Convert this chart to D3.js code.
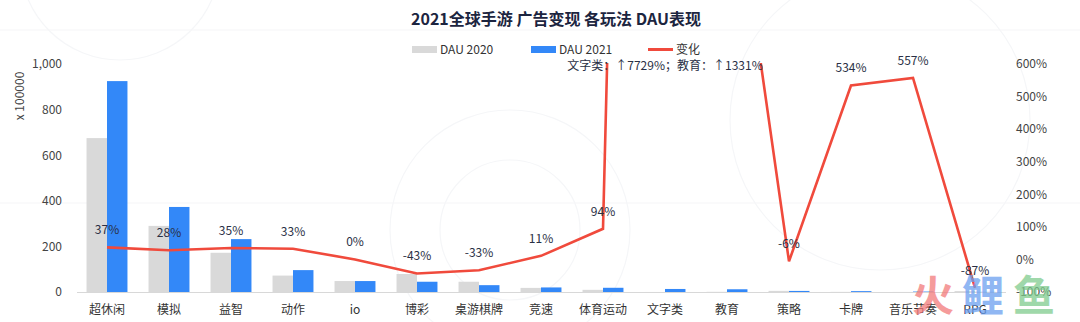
<!DOCTYPE html>
<html><head><meta charset="utf-8">
<script src="https://cdn.jsdelivr.net/npm/d3@7"></script>
<style>
html,body{margin:0;padding:0;background:#fff;}
svg{display:block;font-family:"Noto Sans CJK SC","Noto Sans",sans-serif;}
</style></head>
<body>
<svg id="c" width="1080" height="322"></svg>
<script>
const categories = ["超休闲","模拟","益智","动作","io","博彩","桌游棋牌","竞速","体育运动","文字类","教育","策略","卡牌","音乐节奏","RPG"];
const dau2020 = [675, 290, 172, 72, 48, 79, 45, 18, 9.5, 0.17, 0.84, 5, 0.6, 0.3, 4];
const dau2021 = [925, 373, 232, 96, 48, 45, 30, 20, 18.5, 13.3, 12, 4.7, 3.8, 2, 0.5];
const change = [37, 28, 35, 33, 0, -43, -33, 11, 94, 7729, 1331, -6, 534, 557, -87];
const changeLabels = ["37%","28%","35%","33%","0%","-43%","-33%","11%","94%","文字类：↑7729%；教育：↑1331%","","-6%","534%","557%","-87%"];
const leftTicks = [0, 200, 400, 600, 800, 1000];
const rightTicks = [-100, 0, 100, 200, 300, 400, 500, 600];
const seriesNames = ["DAU 2020", "DAU 2021"];
const lineName = "变化";
const title = "2021全球手游 广告变现 各玩法 DAU表现";
const yTitle = "x 100000";
const watermark = ["火", "鲤", "鱼"];

const svg = d3.select("#c");
const colors = {g:"#d9d9d9", b:"#3388f8", r:"#f04a3c", text:"#333", axis:"#d8d8d8"};

// faint background decoration
const deco = svg.append("g").attr("fill","none").attr("stroke","#f5f6f8").attr("stroke-width",1.2);
deco.append("circle").attr("cx",120).attr("cy",-40).attr("r",100);
deco.append("circle").attr("cx",510).attr("cy",230).attr("r",120);
deco.append("circle").attr("cx",510).attr("cy",230).attr("r",70);
deco.append("circle").attr("cx",880).attr("cy",120).attr("r",150);
deco.append("line").attr("x1",0).attr("x2",1080).attr("y1",30).attr("y2",30);
deco.append("line").attr("x1",0).attr("x2",1080).attr("y1",203).attr("y2",203);

const x = d3.scaleBand().domain(categories).range([76, 1006]).paddingInner(0.34).paddingOuter(0.17);
const x1 = d3.scaleBand().domain(seriesNames).range([0, x.bandwidth()]);
const yL = d3.scaleLinear().domain([0, 1000]).range([292, 64]);
const yR = d3.scaleLinear().domain([-100, 600]).range([292, 64]);

// title
svg.append("text").attr("x",556).attr("y",25).attr("text-anchor","middle")
  .attr("font-size",16).attr("font-weight","bold").attr("fill","#1c2540").text(title);

// legend
const lg = svg.append("g").attr("font-size",12).attr("fill",colors.text);
lg.append("rect").attr("x",412).attr("y",46).attr("width",25).attr("height",7).attr("fill",colors.g);
lg.append("text").attr("x",440).attr("y",53.5).text(seriesNames[0]);
lg.append("rect").attr("x",531).attr("y",46).attr("width",25).attr("height",7).attr("fill",colors.b);
lg.append("text").attr("x",559).attr("y",53.5).text(seriesNames[1]);
lg.append("line").attr("x1",648).attr("x2",673).attr("y1",49.5).attr("y2",49.5).attr("stroke",colors.r).attr("stroke-width",3);
lg.append("text").attr("x",676).attr("y",53.5).text(lineName);

// left axis
const axL = svg.append("g").attr("transform","translate(62,0)")
  .call(d3.axisLeft(yL).tickValues(leftTicks).tickSize(0).tickPadding(0).tickFormat(d3.format(",")));
axL.select(".domain").remove();
axL.selectAll("text").attr("font-size",12).attr("fill","#444").attr("font-family","Noto Sans CJK SC");
svg.append("text").attr("transform","translate(24,96) rotate(-90)").attr("text-anchor","middle")
  .attr("font-size",12).attr("fill","#444").text(yTitle);

// right axis
const axR = svg.append("g").attr("transform","translate(1016,0)")
  .call(d3.axisRight(yR).tickValues(rightTicks).tickSize(0).tickPadding(0).tickFormat(d => d + "%"));
axR.select(".domain").remove();
axR.selectAll("text").attr("font-size",12).attr("fill","#444").attr("font-family","Noto Sans CJK SC");

// bars
const rows = categories.map((c,i) => ({c, v:[dau2020[i], dau2021[i]]}));
const bg = svg.append("g");
rows.forEach(r => {
  seriesNames.forEach((s,j) => {
    bg.append("rect").attr("x", x(r.c) + x1(s)).attr("width", x1.bandwidth())
      .attr("y", yL(r.v[j])).attr("height", yL(0) - yL(r.v[j]))
      .attr("fill", j === 0 ? colors.g : colors.b);
  });
});

// x axis
const axB = svg.append("g").attr("transform","translate(0,292)")
  .call(d3.axisBottom(x).tickSize(0).tickPadding(13));
axB.select(".domain").attr("stroke",colors.axis).attr("d","M77,0.5H1006");
axB.selectAll("text").attr("font-size",12).attr("fill","#333").attr("font-family","Noto Sans CJK SC");

// line clipped to plot area
svg.append("clipPath").attr("id","clip").append("rect").attr("x",60).attr("y",63).attr("width",960).attr("height",240);
const line = d3.line().x((d,i) => x(categories[i]) + x.bandwidth()/2).y(d => yR(d));
svg.append("path").datum(change).attr("clip-path","url(#clip)").attr("d", line)
  .attr("fill","none").attr("stroke",colors.r).attr("stroke-width",2.6).attr("stroke-linejoin","miter");

// labels
const lb = svg.append("g").attr("font-size",12).attr("fill","#2a3045").attr("text-anchor","middle");
change.forEach((v,i) => {
  if (!changeLabels[i]) return;
  const cx = x(categories[i]) + x.bandwidth()/2;
  const cy = v > 600 ? 70 : yR(v) - 13;
  lb.append("text").attr("x", cx).attr("y", cy).text(changeLabels[i]);
});

// watermark
const wm = svg.append("g").attr("font-size",42).attr("font-weight","bold").attr("opacity",0.75);
const wmX = [912, 962, 1013];
const wmC = ["#f27a7a", "#6b9ff0", "#7fcb8e"];
watermark.forEach((t,i) => {
  wm.append("text").attr("x", wmX[i]).attr("y", 311).attr("fill", wmC[i]).text(t);
});
</script>
</body></html>
